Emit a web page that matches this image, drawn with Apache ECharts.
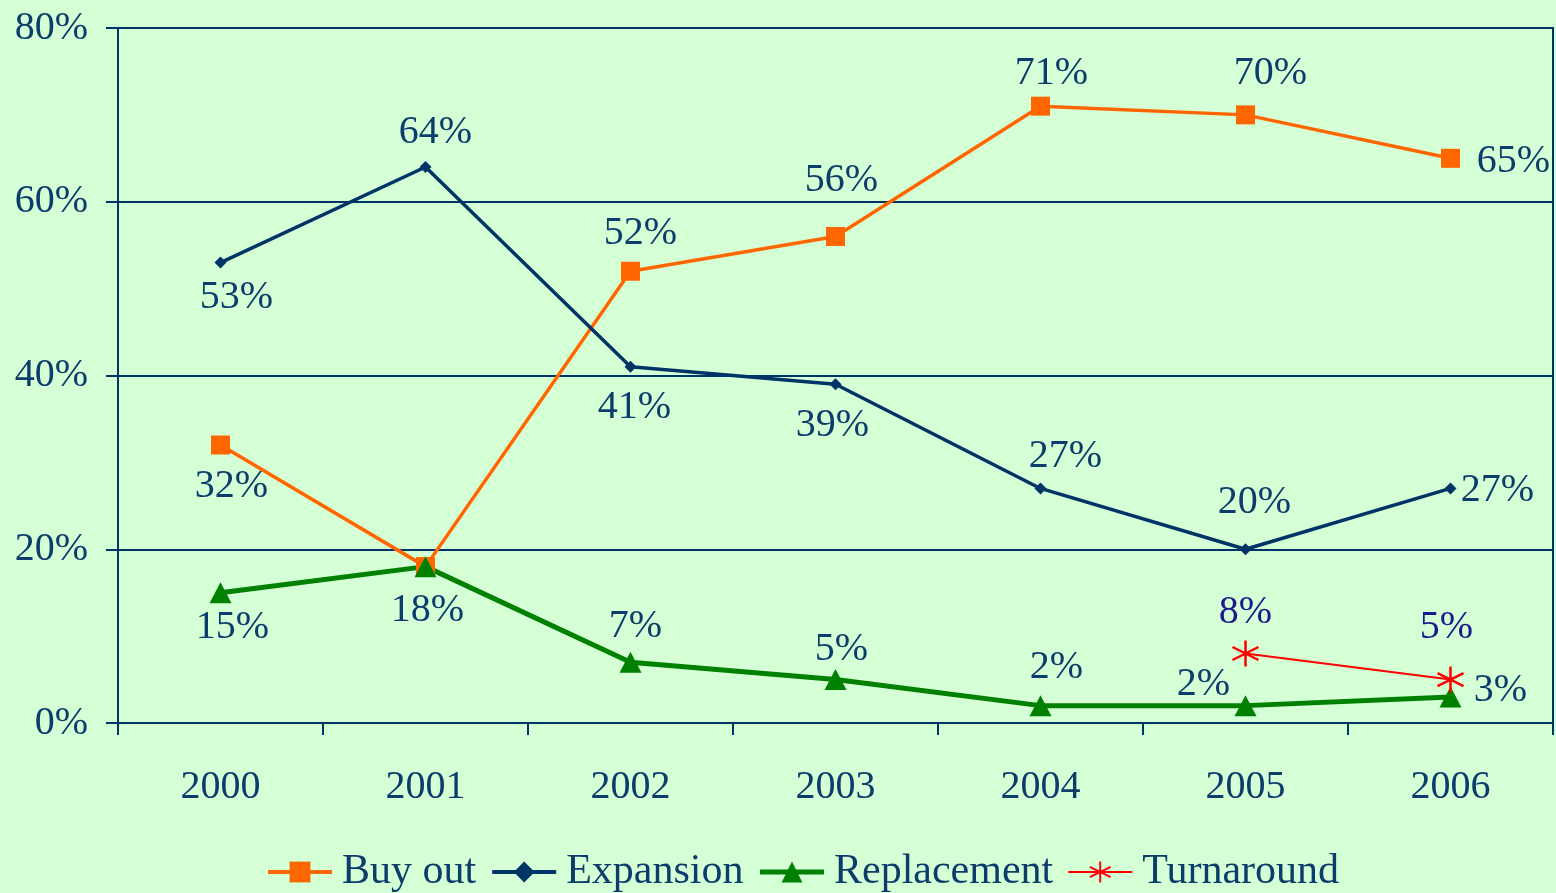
<!DOCTYPE html>
<html>
<head>
<meta charset="utf-8">
<script src="https://cdn.jsdelivr.net/npm/echarts@6/dist/echarts.min.js"></script>
<style>
  html, body { margin: 0; padding: 0; background: #d5ffd5; }
  #chart { width: 1556px; height: 893px; }
</style>
</head>
<body>
<div id="chart"></div>
<script>
// data
const years = ['2000', '2001', '2002', '2003', '2004', '2005', '2006'];
const buyOut = [32, 18, 52, 56, 71, 70, 65];
const expansion = [53, 64, 41, 39, 27, 20, 27];
const replacement = [15, 18, 7, 5, 2, 2, 3];
const turnaround = [null, null, null, null, null, 8, 5];
const yTicks = [0, 20, 40, 60, 80];

// label placement (offset from the point, px) - null hides the label
const buyOutLabelPos = [[11, 41], null, [10, -38], [6, -56], [11, -33], [25, -41], [63, 3]];
const expansionLabelPos = [[16, 35], [10, -35], [4, 41], [-3, 41], [25, -32], [9, -47], [47, 2]];
const replacementLabelPos = [[12, 35], [2, 44], [5, -36], [6, -30], [16, -38], [-42, -21], [50, -6]];
const turnaroundLabelPos = [null, null, null, null, null, [0, -41], [-4, -52]];

const navy = '#003366';
const textColor = '#0c3c6c';
const font = '"Liberation Serif", "DejaVu Serif", serif';

const chart = echarts.init(document.getElementById('chart'));

function points(values, offsets, color) {
  return values.map((v, i) => {
    if (v === null) return '-';
    const off = offsets[i];
    return {
      value: v,
      label: off ? { show: true, offset: off, color: color } : { show: false }
    };
  });
}

const labelBase = {
  show: true,
  position: 'inside',
  formatter: p => p.value + '%',
  fontFamily: font,
  fontSize: 40,
  color: textColor
};

const asterisk = 'path://M10,0L10,20M1.34,5L18.66,15M1.34,15L18.66,5';

const options = {
  backgroundColor: '#d5ffd5',
  animation: false,
  textStyle: { fontFamily: font },
  grid: {
    left: 118,
    right: 3,
    top: 28,
    bottom: 170,
    show: true,
    borderColor: navy,
    borderWidth: 2,
    backgroundColor: 'transparent'
  },
  legend: {
    bottom: -5,
    left: 261,
    itemWidth: 64,
    itemHeight: 26,
    itemGap: 14,
    textStyle: { fontFamily: font, fontSize: 42, color: textColor, padding: [0, 0, 0, 5] },
    data: [
      { name: 'Buy out', lineStyle: { width: 4 } },
      { name: 'Expansion', lineStyle: { width: 4 } },
      { name: 'Replacement', lineStyle: { width: 5 } },
      { name: 'Turnaround', lineStyle: { width: 2 } }
    ]
  },
  xAxis: {
    type: 'category',
    data: years,
    boundaryGap: true,
    axisLine: { lineStyle: { color: navy, width: 2 } },
    axisTick: { show: true, length: 12, lineStyle: { color: navy, width: 2 } },
    axisLabel: { fontFamily: font, fontSize: 40, color: textColor, margin: 44 }
  },
  yAxis: {
    type: 'value',
    min: yTicks[0],
    max: yTicks[yTicks.length - 1],
    interval: 20,
    axisLine: { show: true, lineStyle: { color: navy, width: 2 } },
    axisTick: { show: true, length: 12, lineStyle: { color: navy, width: 2 } },
    splitLine: { lineStyle: { color: navy, width: 2 } },
    axisLabel: {
      formatter: '{value}%',
      fontFamily: font,
      fontSize: 40,
      color: textColor,
      margin: 30
    }
  },
  series: [
    {
      name: 'Buy out',
      type: 'line',
      data: points(buyOut, buyOutLabelPos, textColor),
      symbol: 'rect',
      symbolSize: 19,
      lineStyle: { color: '#ff6600', width: 3.5 },
      itemStyle: { color: '#ff6600' },
      label: labelBase
    },
    {
      name: 'Expansion',
      type: 'line',
      data: points(expansion, expansionLabelPos, textColor),
      symbol: 'diamond',
      symbolSize: 12,
      lineStyle: { color: navy, width: 3.5 },
      itemStyle: { color: navy },
      label: labelBase
    },
    {
      name: 'Replacement',
      type: 'line',
      data: points(replacement, replacementLabelPos, textColor),
      symbol: 'triangle',
      symbolSize: [22, 21],
      lineStyle: { color: '#008000', width: 5 },
      itemStyle: { color: '#008000' },
      label: labelBase
    },
    {
      name: 'Turnaround',
      type: 'line',
      data: points(turnaround, turnaroundLabelPos, '#1a1a8c'),
      symbol: asterisk,
      symbolSize: 26,
      lineStyle: { color: '#ff0000', width: 2 },
      itemStyle: { color: '#ff0000', borderColor: '#ff0000', borderWidth: 2.5 },
      label: labelBase
    }
  ]
};

chart.setOption(options);
</script>
</body>
</html>
